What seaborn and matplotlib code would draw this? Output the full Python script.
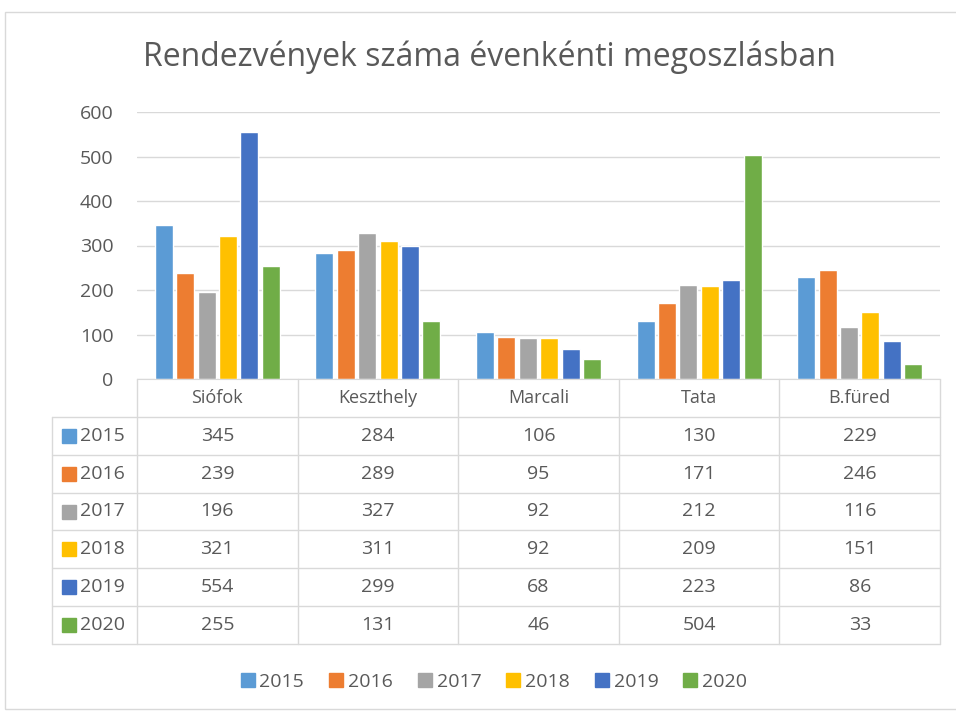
import numpy as np
import pandas as pd
import matplotlib
matplotlib.use("Agg")
import matplotlib.pyplot as plt
import seaborn as sns
from matplotlib.patches import Rectangle
from matplotlib.lines import Line2D

categories = ["Siófok", "Keszthely", "Marcali", "Tata", "B.füred"]
years = ["2015", "2016", "2017", "2018", "2019", "2020"]
v2015 = [345, 284, 106, 130, 229]
v2016 = [239, 289, 95, 171, 246]
v2017 = [196, 327, 92, 212, 116]
v2018 = [321, 311, 92, 209, 151]
v2019 = [554, 299, 68, 223, 86]
v2020 = [255, 131, 46, 504, 33]
series = [v2015, v2016, v2017, v2018, v2019, v2020]
colors = ["#5B9BD5", "#ED7D31", "#A5A5A5", "#FFC000", "#4472C4", "#70AD47"]
title = "Rendezvények száma évenkénti megoszlásban"

sns.set_style("white")
plt.rcParams['font.family'] = ['Open Sans', 'DejaVu Sans']
TXT = "#595959"
GRID = "#d9d9d9"
NUM_FS = 14
CAT_FS = 13

W, H = 956, 711
fig = plt.figure(figsize=(W / 100, H / 100), dpi=100)
def fx(px): return px / W
def fy(py): return 1 - py / H

rows = []
for y, vals in zip(years, series):
    for c, v in zip(categories, vals):
        rows.append({"cat": c, "year": y, "val": v})
df = pd.DataFrame(rows)

L, R, T, B = 137, 940, 112, 379
ax = fig.add_axes([fx(L), fy(B), fx(R) - fx(L), fy(T) - fy(B)])
sns.barplot(data=df, x="cat", y="val", hue="year", order=categories, hue_order=years,
            palette=colors, width=0.8, gap=0.16, ax=ax, legend=False, saturation=1)
ax.set_xlim(-0.5, 4.5)
ax.set_ylim(0, 600)
ax.set_yticks(range(0, 700, 100))
ax.yaxis.grid(True, color=GRID, lw=1)
ax.set_axisbelow(True)
for s in ["top", "right", "left"]:
    ax.spines[s].set_visible(False)
ax.spines["bottom"].set_color(GRID)
ax.set_xticks([])
ax.set_xlabel("")
ax.set_ylabel("")
ax.tick_params(axis='y', length=0, labelsize=NUM_FS, labelcolor=TXT, pad=17)

# data table
TL, TB = 52, 644
unit = (R - L) / 5.0
x0 = -0.5 - (L - TL) / unit
tax = fig.add_axes([fx(TL), fy(TB), fx(R) - fx(TL), fy(B) - fy(TB)])
tax.set_xlim(x0, 4.5)
tax.set_ylim(7, 0)
tax.axis('off')
for r in range(1, 8):
    tax.plot([x0, 4.5], [r, r], color=GRID, lw=1, clip_on=False)
for k in range(6):
    tax.plot([k - 0.5, k - 0.5], [0, 7], color=GRID, lw=1, clip_on=False)
tax.plot([x0, x0], [1, 7], color=GRID, lw=1, clip_on=False)
for i, c in enumerate(categories):
    tax.text(i, 0.5, c, ha="center", va="center", fontsize=CAT_FS, color=TXT)
for r, (y, vals, col) in enumerate(zip(years, series, colors)):
    for i, v in enumerate(vals):
        tax.text(i, r + 1.5, str(v), ha="center", va="center", fontsize=NUM_FS, color=TXT)
    tax.plot([x0 + (69 - TL) / unit], [r + 1.5], marker="s", ms=9.5, color=col,
             clip_on=False, ls="none")
    tax.text(x0 + (80 - TL) / unit, r + 1.5, y, ha="left", va="center", fontsize=NUM_FS, color=TXT)

# legend
handles = [Line2D([], [], marker="s", ls="none", ms=9.5, color=c) for c in colors]
fig.legend(handles, years, loc="center", bbox_to_anchor=(fx(493), fy(682)), ncol=6,
           frameon=False, fontsize=NUM_FS, labelcolor=TXT, handletextpad=0.15,
           columnspacing=1.2, handlelength=0.9)

fig.text(fx(489), fy(57), title, ha="center", va="center", fontsize=23, color=TXT)

fig.add_artist(Rectangle((fx(5), fy(709)), fx(960) - fx(5), fy(12) - fy(709),
                         transform=fig.transFigure, fill=False, ec=GRID, lw=1))

fig.savefig("out.png", dpi=100)
